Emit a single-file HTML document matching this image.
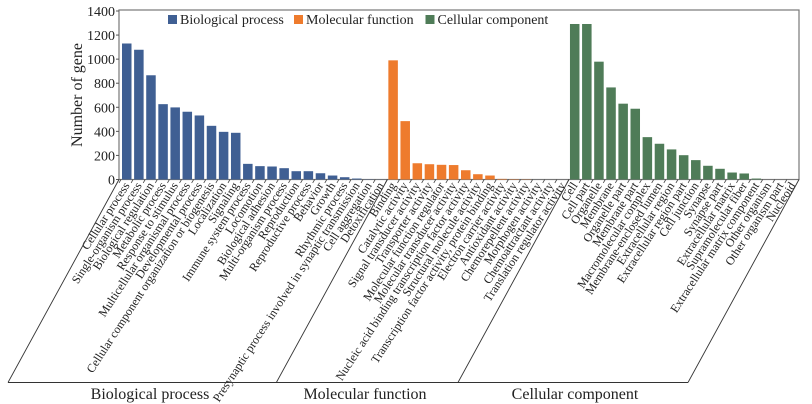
<!DOCTYPE html>
<html><head><meta charset="utf-8"><style>
body{margin:0;background:#fff;}
svg{display:block;}
svg text{font-family:"Liberation Serif","Times New Roman",Times,"DejaVu Serif",serif;}
</style></head><body>
<svg id="chart" width="812" height="404" viewBox="0 0 812 404" xmlns="http://www.w3.org/2000/svg"></svg>
<script>
const bpCats=["Cellular process","Single-organism process","Biological regulation","Metabolic process","Response to stimulus","Multicellular organismal process","Developmental process","Cellular component organization or biogenesis","Localization","Signaling","Immune system process","Locomotion","Biological adhesion","Multi-organism process","Reproduction","Reproductive process","Behavior","Growth","Rhythmic process","Presynaptic process involved in synaptic transmission","Cell aggregation","Detoxification"];
const bpVals=[1130,1078,866,626,599,563,532,446,396,388,130,111,108,94,69,69,52,33,19,8,2,1];
const mfCats=["Binding","Catalytic activity","Signal transducer activity","Transporter activity","Molecular function regulator","Molecular transducer activity","Nucleic acid binding transcription factor activity","Structural molecule activity","Transcription factor activity, protein binding","Electron carrier activity","Antioxidant activity","Chemorepellent activity","Morphogen activity","Chemoattractant activity","Translation regulator activity"];
const mfVals=[990,485,135,127,122,120,77,44,33,5,3,2,0,0,0];
const ccCats=["Cell","Cell part","Organelle","Membrane","Organelle part","Membrane part","Macromolecular complex","Membrane-enclosed lumen","Extracellular region","Extracellular region part","Cell junction","Synapse","Synapse part","Extracellular matrix","Supramolecular fiber","Extracellular matrix component","Other organism","Other organism part","Nucleoid"];
const ccVals=[1292,1292,979,765,630,588,352,297,250,202,161,114,89,58,50,8,0,0,0];
const yTicks=[0,200,400,600,800,1000,1200,1400];
const groupNames=["Biological process","Molecular function","Cellular component"];

const NS="http://www.w3.org/2000/svg";
const svg=document.getElementById('chart');
const L=119,R=799,T=11,B=179.5,YMAX=1400;
const y=v=>B-(v/YMAX)*(B-T);
const total=bpCats.length+mfCats.length+ccCats.length;
const slot=(R-L-2)/total;
const x=i=>L+2+i*slot;
function mk(tag,attrs,parent){const e=document.createElementNS(NS,tag);for(const k in attrs)e.setAttribute(k,attrs[k]);(parent||svg).appendChild(e);return e;}

const frame=mk('rect',{x:L,y:T-1,width:R-L,height:B-T+1,fill:'none',stroke:'#777','stroke-width':1.2});



yTicks.forEach(v=>{
  const t=mk('text',{x:L-4,y:y(v)+5,'text-anchor':'end','font-size':14,fill:'#222'});
  t.textContent=v;
  
  
  const tk=mk('line',{x1:L-3,x2:L,y1:y(v),y2:y(v),stroke:'#555'});
  
  
});
const yt=mk('text',{x:0,y:0,transform:'translate(82,95) rotate(-90)','text-anchor':'middle','font-size':16,fill:'#222'});
yt.textContent='Number of gene';



const groups=[[bpCats,bpVals,'#3f5f93'],[mfCats,mfVals,'#ee7b2d'],[ccCats,ccVals,'#4f7c58']];
const ang=-60, dx=Math.cos(ang*Math.PI/180), dy=-Math.sin(ang*Math.PI/180);
let idx=0;
groups.forEach((g,gi)=>{
  g[0].forEach((c,i)=>{
    const cx=x(idx)+slot/2;
    const v=g[1][i];
    const b=mk('rect',{x:x(idx)+1,y:y(v),width:slot-2.6,height:B-y(v),fill:g[2]});
    
    
    const tk=mk('line',{x1:x(idx),y1:B,x2:x(idx)-4*dx,y2:B+4*dy,stroke:'#444','stroke-width':0.8});
    
    
    const t=mk('text',{x:0,y:0,transform:`translate(${cx+3},${B+6}) rotate(-57)`,'text-anchor':'end','font-size':12,fill:'#222'});
    t.textContent=c;
    
    
    idx++;
  });
});
const BY=382.5, off=111;
const bounds=[0,bpCats.length,bpCats.length+mfCats.length,total];
bounds.forEach(bi=>{
  const bx=bi===0?L:(bi===total?R:x(bi));
  const l=mk('line',{x1:bx,y1:B,x2:bx-off,y2:BY,stroke:'#333','stroke-width':0.9});
  
  
});
const bl=mk('line',{x1:L-off,y1:BY,x2:R-off,y2:BY,stroke:'#333','stroke-width':0.9});


const gx=[150,365,575];
groupNames.forEach((n,i)=>{
  const t=mk('text',{x:gx[i],y:399,'text-anchor':'middle','font-size':16,fill:'#222'});
  t.textContent=n;
  
  
});
const lx=[168,294,425.5];
groups.forEach((g,i)=>{
  const r=mk('rect',{x:lx[i],y:15,width:9,height:9,fill:g[2]});
  
  
  const t=mk('text',{x:lx[i]+12,y:24,'font-size':14,fill:'#222'});
  t.textContent=groupNames[i];
  
  
});
</script>
</body></html>
